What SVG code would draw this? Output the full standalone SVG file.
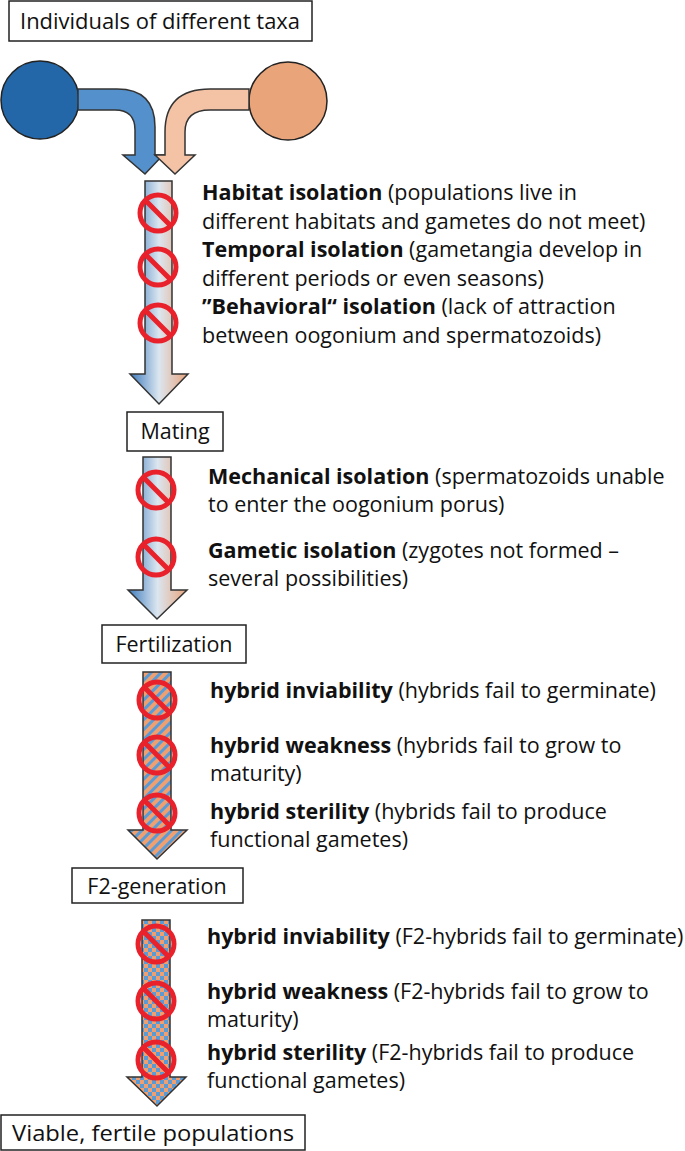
<svg xmlns="http://www.w3.org/2000/svg" width="685" height="1151" viewBox="0 0 685 1151">
<style>
.box{fill:#fff;stroke:#222;stroke-width:1.5}
.lbl{font-family:"Open Sans","Liberation Sans",sans-serif;font-size:21.5px;fill:#111}
.t{font-family:"Open Sans","Liberation Sans",sans-serif;font-size:21.5px;fill:#111}
.b{font-weight:bold}
.arr{stroke:#333;stroke-width:1.5}
.no circle{fill:none;stroke:#e8212b;stroke-width:5}
.no line{stroke:#e8212b;stroke-width:5}
</style>
<defs>
<linearGradient id="g" x1="0" x2="1" y1="0" y2="0">
<stop offset="0" stop-color="#3d7bbd"/><stop offset="0.5" stop-color="#dbe6f0"/><stop offset="1" stop-color="#e9a47c"/>
</linearGradient>
<pattern id="stripe" width="7" height="7" patternUnits="userSpaceOnUse" patternTransform="rotate(45)">
<rect width="7" height="7" fill="#f0a070"/><rect width="3" height="7" fill="#5b9bd5"/>
</pattern>
<pattern id="check" width="8" height="8" patternUnits="userSpaceOnUse">
<rect width="8" height="8" fill="#f0a070"/><rect width="4" height="4" fill="#5b9bd5"/><rect x="4" y="4" width="4" height="4" fill="#5b9bd5"/>
</pattern>
<g id="nosign" class="no"><circle r="18"/><line x1="-12.7" y1="-12.7" x2="12.7" y2="12.7"/></g>
</defs>

<g id="n-top"><rect class="box" x="9" y="1" width="303" height="40"/><text class="lbl" x="160" y="29" text-anchor="middle" textLength="280" lengthAdjust="spacingAndGlyphs">Individuals of different taxa</text></g>
<g id="n-blue"><circle cx="40" cy="100" r="39" fill="#2467a8" stroke="#222" stroke-width="1.5"/></g>
<g id="n-orange"><circle cx="288" cy="101" r="39" fill="#eaa47a" stroke="#222" stroke-width="1.5"/></g>
<g id="n-mating"><rect class="box" x="127" y="412" width="96" height="39"/><text class="lbl" x="175" y="439" text-anchor="middle">Mating</text></g>
<g id="n-fert"><rect class="box" x="102" y="625" width="144" height="38"/><text class="lbl" x="174" y="652" text-anchor="middle">Fertilization</text></g>
<g id="n-f2"><rect class="box" x="72" y="868" width="171" height="35"/><text class="lbl" x="157" y="894" text-anchor="middle">F2-generation</text></g>
<g id="n-end"><rect class="box" x="1" y="1115" width="304" height="35"/><text class="lbl" x="153" y="1141" text-anchor="middle" textLength="282" lengthAdjust="spacingAndGlyphs">Viable, fertile populations</text></g>

<g id="connectors">
<path class="arr" fill="#5390cc" d="M78,89 H117 Q155,89 155,127 V155 H163 L145,174 L123,155 H135 V130 Q135,110 115,110 H78 Z"/>
<path class="arr" fill="#f4c3a6" d="M249,89 H210 Q165,89 165,132 V155 H155 L175,174 L195,155 H185 V132 Q185,110 210,110 H249 Z"/>
<path class="arr" fill="url(#g)" d="M145,181 H172 V374 H188 L159,404 L130,374 H145 Z"/>
<path class="arr" fill="url(#g)" d="M143,457 H171 V590 H187 L157,619 L128,590 H143 Z"/>
<path class="arr" fill="url(#stripe)" d="M143,672 H171 V830 H187 L157,859 L128,830 H143 Z"/>
<path class="arr" fill="url(#check)" d="M142,920 H170 V1077 H186 L157,1106 L127,1077 H142 Z"/>
</g>

<g id="signs">
<use href="#nosign" x="158" y="213"/><use href="#nosign" x="158" y="267"/><use href="#nosign" x="158" y="323"/>
<use href="#nosign" x="156" y="490"/><use href="#nosign" x="156" y="557"/>
<use href="#nosign" x="157" y="700"/><use href="#nosign" x="157" y="755"/><use href="#nosign" x="157" y="813"/>
<use href="#nosign" x="156" y="944"/><use href="#nosign" x="156" y="1001"/><use href="#nosign" x="156" y="1060"/>
</g>

<g id="texts" class="t">
<text x="202" y="200"><tspan class="b">Habitat isolation</tspan> (populations live in</text>
<text x="202" y="229">different habitats and gametes do not meet)</text>
<text x="202" y="257"><tspan class="b">Temporal isolation</tspan> (gametangia develop in</text>
<text x="202" y="286">different periods or even seasons)</text>
<text x="202" y="314"><tspan class="b">”Behavioral“ isolation</tspan> (lack of attraction</text>
<text x="202" y="343">between oogonium and spermatozoids)</text>
<text x="208" y="484"><tspan class="b">Mechanical isolation</tspan> (spermatozoids unable</text>
<text x="208" y="512">to enter the oogonium porus)</text>
<text x="208" y="558"><tspan class="b">Gametic isolation</tspan> (zygotes not formed –</text>
<text x="208" y="586">several possibilities)</text>
<text x="210" y="698"><tspan class="b">hybrid inviability</tspan> (hybrids fail to germinate)</text>
<text x="210" y="753"><tspan class="b">hybrid weakness</tspan> (hybrids fail to grow to</text>
<text x="210" y="781">maturity)</text>
<text x="210" y="819"><tspan class="b">hybrid sterility</tspan> (hybrids fail to produce</text>
<text x="210" y="847">functional gametes)</text>
<text x="207" y="944"><tspan class="b">hybrid inviability</tspan> (F2-hybrids fail to germinate)</text>
<text x="207" y="999"><tspan class="b">hybrid weakness</tspan> (F2-hybrids fail to grow to</text>
<text x="207" y="1027">maturity)</text>
<text x="207" y="1060"><tspan class="b">hybrid sterility</tspan> (F2-hybrids fail to produce</text>
<text x="207" y="1088">functional gametes)</text>
</g>
</svg>
